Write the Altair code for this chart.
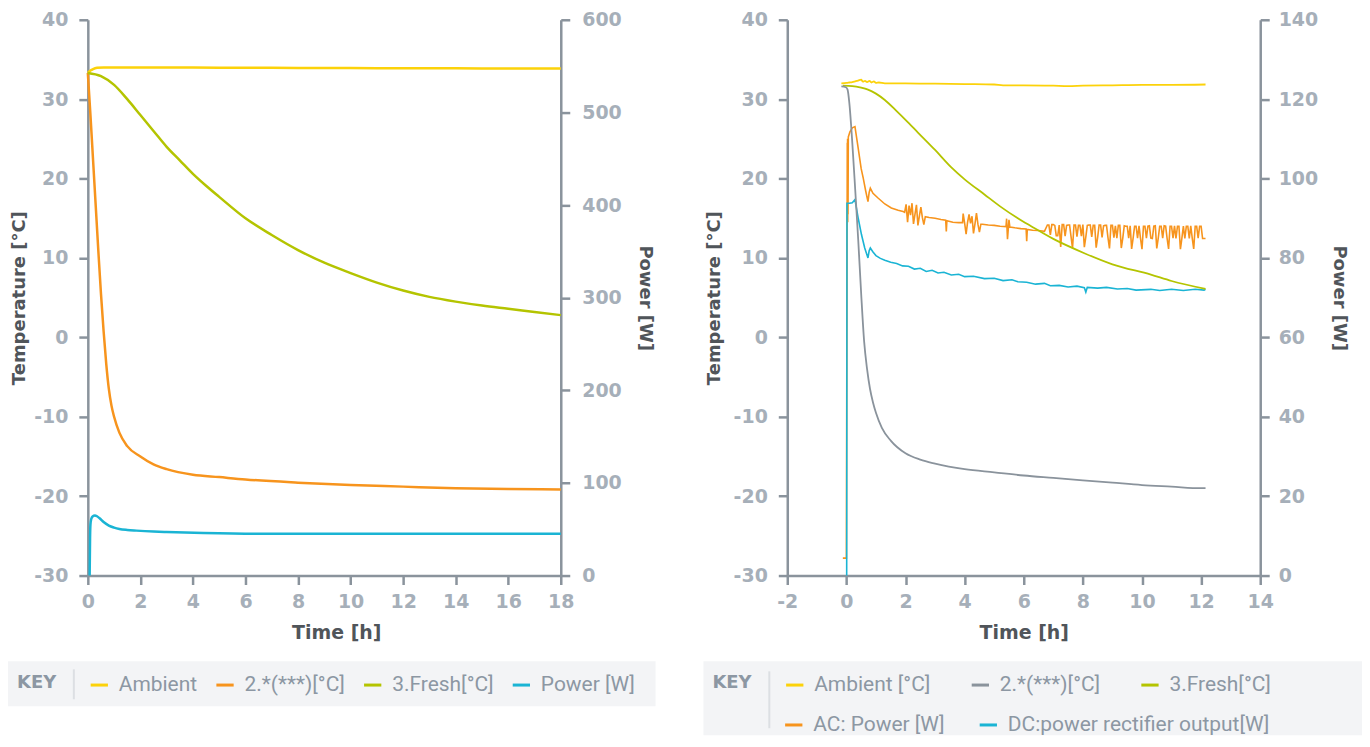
import altair as alt
import pandas as pd

# ---------------- left chart (18 h run) ----------------
L_SERIES = ["Ambient", "2.*(***)[°C]", "3.Fresh[°C]", "Power [W]"]
L_COLORS = ["#fcd20a", "#f7941d", "#b4c400", "#1ab4d4"]

L_AMB_T = [0, 0.1, 0.2, 0.35, 0.6, 1, 2, 4, 6, 8, 10, 12, 14, 16, 18]
L_AMB_V = [33.3, 33.6, 33.8, 33.95, 34.0, 34.0, 34.0, 33.98, 33.96, 33.94, 33.92, 33.9, 33.88, 33.86, 33.85]

L_CMP_T = [0, 0.1, 0.2, 0.3, 0.4, 0.5, 0.6, 0.7, 0.8, 0.9, 1.0, 1.2, 1.5, 2, 2.5, 3, 4, 5, 6, 8, 10, 12, 14, 16, 18]
L_CMP_V = [33.3, 28.0, 22.3, 16.6, 10.9, 5.5, 0.8, -3.3, -6.5, -8.6, -10.0, -12.0, -13.7, -15.0, -16.0,
           -16.6, -17.3, -17.6, -17.9, -18.3, -18.6, -18.8, -19.0, -19.1, -19.15]

L_FRS_T = [0, 0.5, 1, 1.5, 2, 2.5, 3, 3.5, 4, 4.5, 5, 6, 7, 8, 9, 10, 11, 12, 13, 14, 15, 16, 17, 18]
L_FRS_V = [33.3, 32.9, 31.8, 30.0, 28.0, 26.0, 24.0, 22.3, 20.6, 19.1, 17.7, 15.0, 12.9, 11.0, 9.4, 8.1,
           6.9, 5.9, 5.1, 4.5, 4.0, 3.6, 3.2, 2.8]

L_PWR_T = [0.07, 0.085, 0.1, 0.13, 0.18, 0.27, 0.35, 0.45, 0.6, 0.8, 1.0, 1.2, 1.5, 1.85, 2.5, 3.0, 4.4, 6.9, 9, 12, 15, 18]
L_PWR_V = [0, 40, 55, 61, 63.8, 64.8, 64.0, 61.8, 57.8, 54.0, 51.8, 50.3, 49.2, 48.5, 47.5, 47.0, 46.0, 45.0, 45.2, 45.1, 45.0, 45.0]

# ---------------- right chart (12 h run) ----------------
R_TEMP_SERIES = ["Ambient [°C]", "2.*(***)[°C]", "3.Fresh[°C]"]
R_TEMP_COLORS = ["#fcd20a", "#8a939c", "#b4c400"]
R_POW_SERIES = ["AC: Power [W]", "DC:power rectifier output[W]"]
R_POW_COLORS = ["#f7941d", "#1ab4d4"]

R_AMB_T = [-0.17, 0.0, 0.1, 0.2, 0.3, 0.4, 0.5, 0.56, 0.63, 0.7, 0.78, 0.85, 0.93, 1.0, 1.1, 1.3, 1.6, 2.0,
           3.0, 4.0, 5.0, 5.3, 6.0, 7.0, 7.5, 8.0, 9.0, 10.0, 11.0, 12.15]
R_AMB_V = [32.0, 32.05, 32.1, 32.15, 32.25, 32.35, 32.45, 32.2, 32.3, 32.15, 32.3, 32.1, 32.25, 32.05, 32.1,
           32.0, 32.0, 32.0, 31.95, 31.9, 31.85, 31.75, 31.75, 31.7, 31.65, 31.7, 31.75, 31.8, 31.8, 31.85]

R_CMP_T = [-0.17, -0.02, 0.04, 0.1, 0.2, 0.3, 0.4, 0.5, 0.6, 0.7, 0.8, 0.9, 1.0, 1.2, 1.5, 2.0, 2.5, 3.0,
           4.0, 5.0, 6.0, 7.0, 8.0, 9.0, 10.0, 11.0, 12.0, 12.15]
R_CMP_V = [31.6, 31.5, 31.2, 29.5, 24.5, 18.5, 12.3, 5.5, -0.5, -4.0, -6.5, -8.2, -9.5, -11.4, -13.0, -14.6,
           -15.4, -15.9, -16.6, -17.0, -17.4, -17.7, -18.0, -18.3, -18.6, -18.8, -19.0, -19.0]

R_FRS_T = [-0.12, 0.2, 0.5, 0.73, 1.0, 1.3, 1.7, 2.0, 2.42, 3.0, 3.55, 4.0, 4.67, 5.2, 5.8, 6.25, 7.0, 8.05,
           9.0, 10.3, 11.0, 12.15]
R_FRS_V = [31.7, 31.65, 31.45, 31.2, 30.7, 29.9, 28.5, 27.4, 25.8, 23.6, 21.4, 19.9, 18.0, 16.5, 15.0, 14.0,
           12.4, 10.6, 9.2, 7.9, 7.1, 6.1]

# AC power: start-up and drift (to 6.7 h)
R_AC_T = [-0.12, 0.0, 0.03, 0.035, 0.04, 0.045, 0.05, 0.055, 0.065, 0.12, 0.2, 0.29, 0.4, 0.5, 0.57, 0.65,
          0.73, 0.77, 0.81, 0.9, 1.07, 1.3, 1.52, 1.75, 1.92,
          1.97, 2.02, 2.07, 2.12, 2.17, 2.22, 2.27, 2.32, 2.37, 2.42, 2.47, 2.52, 2.57, 2.62, 2.67,
          2.8, 3.0, 3.2, 3.36, 3.38, 3.4, 3.6, 3.8, 3.93, 3.95, 4.0, 4.05, 4.1, 4.15, 4.2,
          4.25, 4.3, 4.35, 4.4, 4.45, 4.5, 4.55, 4.6, 4.8, 5.0, 5.2, 5.4, 5.42, 5.45, 5.5,
          5.53, 5.7, 5.9, 6.08, 6.1, 6.12, 6.3, 6.5, 6.7]
R_AC_V = [4.4, 4.4, 109.0, 90.0, 110.0, 89.0, 106.0, 91.0, 110.5, 111.8, 112.8, 113.1, 107.6, 102.5, 100.1, 97.0,
          94.2, 96.5, 97.6, 96.3, 95.1, 93.6, 92.6, 92.0, 91.7,
          91.5, 93.5, 89.0, 93.2, 90.8, 93.8, 88.6, 91.0, 93.4, 88.2, 90.6, 92.8, 90.2, 88.4, 90.4,
          90.2, 90.0, 89.7, 89.5, 86.7, 89.4, 89.0, 88.9, 88.9, 91.2, 88.8, 86.0, 89.0, 91.0, 88.7,
          90.5, 86.2, 88.6, 91.3, 88.5, 86.5, 88.5, 88.5, 88.3, 88.2, 88.0, 87.9, 89.9, 84.7, 89.6,
          87.8, 87.6, 87.4, 87.3, 84.2, 87.2, 87.0, 86.9, 86.7]

# AC power: switching band (6.8 h to the end)
R_AC_BAND_T = [6.8, 6.85, 6.9, 6.95, 7.0, 7.05, 7.1, 7.15, 7.2, 7.25, 7.3, 7.35, 7.4, 7.45, 7.5,
               7.55, 7.6, 7.65, 7.7, 7.75, 7.8, 7.85, 7.9, 7.95, 8.0, 8.05, 8.1, 8.15, 8.2, 8.25,
               8.3, 8.35, 8.4, 8.45, 8.5, 8.55, 8.6, 8.65, 8.7, 8.75, 8.8, 8.85, 8.9, 8.95, 9.0,
               9.05, 9.1, 9.15, 9.2, 9.25, 9.3, 9.35, 9.4, 9.45, 9.5, 9.55, 9.6, 9.65, 9.7, 9.75,
               9.8, 9.85, 9.9, 9.95, 10.0, 10.05, 10.1, 10.15, 10.2, 10.25, 10.3, 10.35, 10.4, 10.45, 10.5,
               10.55, 10.6, 10.65, 10.7, 10.75, 10.8, 10.85, 10.9, 10.95, 11.0, 11.05, 11.1, 11.15, 11.2, 11.25,
               11.3, 11.35, 11.4, 11.45, 11.5, 11.55, 11.6, 11.65, 11.7, 11.75, 11.8, 11.85, 11.9, 11.95, 12.0,
               12.05, 12.15]
R_AC_BAND_V = [88.3, 88.3, 85.8, 88.4, 88.4, 88.2, 85.6, 85.6, 88.3, 82.8, 88.4, 88.4, 85.5, 88.2, 88.3,
               88.3, 85.4, 82.5, 88.3, 88.3, 85.4, 88.2, 88.2, 85.5, 88.4, 82.7, 85.3, 88.2, 88.3, 88.3,
               85.3, 88.2, 88.2, 82.6, 85.2, 88.3, 88.3, 85.2, 88.1, 88.2, 88.2, 85.1, 82.4, 88.2, 88.2,
               85.1, 88.1, 85.0, 88.2, 88.2, 82.5, 85.0, 88.1, 88.0, 88.0, 85.0, 88.1, 82.3, 85.0, 88.0,
               88.0, 85.0, 88.1, 84.9, 82.2, 88.0, 88.0, 85.0, 88.0, 88.1, 85.0, 84.9, 88.0, 88.1, 82.4,
               85.0, 88.0, 88.0, 85.0, 88.1, 88.0, 84.9, 82.3, 88.0, 88.0, 85.0, 88.1, 84.9, 88.0, 88.0,
               82.2, 85.0, 88.0, 84.9, 88.0, 88.0, 84.9, 88.1, 85.0, 82.3, 88.0, 88.0, 85.0, 88.0, 88.0,
               84.9, 84.9]

R_DC_T = [0.01, 0.02, 0.1, 0.2, 0.29, 0.4, 0.51, 0.62, 0.73, 0.77, 0.81, 0.9, 1.0, 1.15, 1.3, 1.5, 1.7, 1.9,
          2.1, 2.3, 2.5, 2.7, 2.9, 3.1, 3.3, 3.55, 3.8, 4.0, 4.3, 4.67, 5.0, 5.3, 5.6, 5.8, 6.1, 6.4,
          6.7, 6.9, 7.2, 7.5, 7.8, 8.05, 8.1, 8.15, 8.5, 8.8, 9.17, 9.5, 9.8, 10.3, 10.6, 11.0, 11.4,
          11.8, 12.1, 12.15]
R_DC_V = [0.0, 93.8, 93.8, 93.9, 94.7, 90.0, 85.9, 82.5, 80.0, 81.8, 82.5, 81.5, 80.6, 79.9, 79.4, 78.9,
          78.6, 78.0, 77.9, 77.2, 77.4, 76.6, 76.9, 76.2, 76.4, 75.7, 75.9, 75.3, 75.4, 74.8, 74.9, 74.3,
          74.5, 74.0, 73.9, 73.4, 73.6, 73.0, 73.1, 72.7, 72.9, 72.5, 71.4, 72.6, 72.4, 72.6, 72.2, 72.3,
          71.9, 72.1, 71.8, 72.1, 71.8, 72.1, 71.9, 72.1]

TEMP_TICKS = [-30, -20, -10, 0, 10, 20, 30, 40]

AXC = "#8a939c"
TICKC = "#a6afb9"
TITLEC = "#50555a"
KEYC = "#8c97a3"
BOXC = "#f3f4f6"
SEPC = "#dcdfe3"
MINUS = "datum.value < 0 ? '-' + abs(datum.value) : '' + datum.value"


def frame(parts):
    rows = []
    for name, times, values in parts:
        rows.append(pd.DataFrame({"t": times, "v": values, "series": name, "i": list(range(len(times)))}))
    return pd.concat(rows, ignore_index=True)


def legend(lx, ly, colpad, with_title=True):
    kw = dict(orient="none", legendX=lx, legendY=ly, direction="horizontal",
              columnPadding=colpad, symbolType="stroke", symbolSize=300,
              symbolStrokeWidth=3, labelOffset=9, padding=0, labelLimit=500)
    if with_title:
        kw.update(title="KEY", titleOrient="left", titlePadding=32, titleAnchor="start")
    else:
        kw.update(title=None)
    return alt.Legend(**kw)


def panel(df_temp, df_pow, temp_color, pow_color, xdom, xvals, pdom, pvals, box, sep,
          tpad_t, tpad_p, lpad_p, w_t, w_p, interp_t, interp_p, title_x=None, split_legend=False):
    xaxis_kw = dict(values=xvals, title="Time [h]", labelPadding=8, titlePadding=12, titleFontSize=19,
                    labelExpr=MINUS)
    if title_x is not None:
        xaxis_kw["titleX"] = title_x
    x = alt.X("t:Q", scale=alt.Scale(domain=xdom, nice=False, zero=False), axis=alt.Axis(**xaxis_kw))
    pow_layer = alt.Chart(df_pow).mark_line(strokeWidth=w_p, interpolate=interp_p).encode(
        x=x,
        y=alt.Y("v:Q", scale=alt.Scale(domain=pdom, nice=False, zero=False),
                axis=alt.Axis(orient="right", values=pvals, title="Power [W]", titleAngle=90,
                              labelPadding=lpad_p, titlePadding=tpad_p)),
        color=pow_color, order="i:Q")
    temp_layer = alt.Chart(df_temp).mark_line(strokeWidth=w_t, interpolate=interp_t).encode(
        x=x,
        y=alt.Y("v:Q", scale=alt.Scale(domain=[-30, 40], nice=False, zero=False),
                axis=alt.Axis(orient="left", values=TEMP_TICKS, title="Temperature [°C]",
                              labelPadding=11, titlePadding=tpad_t, labelExpr=MINUS)),
        color=temp_color, order="i:Q")
    one = pd.DataFrame({"k": [0]})
    bg = alt.Chart(one).mark_rect(color=BOXC).encode(
        x=alt.value(box[0]), x2=alt.value(box[1]), y=alt.value(box[2]), y2=alt.value(box[3]))
    sp = alt.Chart(one).mark_rule(color=SEPC, strokeWidth=2).encode(
        x=alt.value(sep[0]), y=alt.value(sep[1]), y2=alt.value(sep[2]))
    layered = alt.layer(bg, sp, pow_layer, temp_layer)
    if split_legend:
        layered = layered.resolve_scale(y="independent", color="independent")
    else:
        layered = layered.resolve_scale(y="independent")
    return layered.properties(width=474, height=557)


left_temp = frame([(L_SERIES[0], L_AMB_T, L_AMB_V), (L_SERIES[1], L_CMP_T, L_CMP_V),
                   (L_SERIES[2], L_FRS_T, L_FRS_V)])
left_pow = frame([(L_SERIES[3], L_PWR_T, L_PWR_V)])
right_temp = frame([(R_TEMP_SERIES[0], R_AMB_T, R_AMB_V), (R_TEMP_SERIES[2], R_FRS_T, R_FRS_V),
                    (R_TEMP_SERIES[1], R_CMP_T, R_CMP_V)])
right_pow = frame([(R_POW_SERIES[0], R_AC_T + R_AC_BAND_T, R_AC_V + R_AC_BAND_V),
                   (R_POW_SERIES[1], R_DC_T, R_DC_V)])

left_color = alt.Color("series:N", scale=alt.Scale(domain=L_SERIES, range=L_COLORS),
                       legend=legend(-71, 656, 12))
left = panel(left_temp, left_pow, left_color, left_color, [0, 18], list(range(0, 19, 2)),
             [0, 600], list(range(0, 601, 100)),
             (-80, 569, 643, 688), (-14, 651, 681), 5, 14, 12, 2.5, 2.5, "monotone", "monotone",
             title_x=249)

r_temp_color = alt.Color("series:N", scale=alt.Scale(domain=R_TEMP_SERIES, range=R_TEMP_COLORS),
                         legend=legend(-75, 656, 34))
r_pow_color = alt.Color("series:N", scale=alt.Scale(domain=R_POW_SERIES, range=R_POW_COLORS),
                        legend=legend(-4, 696, 28, with_title=False))
right = panel(right_temp, right_pow, r_temp_color, r_pow_color, [-2, 14], list(range(-2, 15, 2)),
              [0, 140], list(range(0, 141, 20)),
              (-84, 576, 643, 717), (-18, 653, 710), 10, 12, 9, 1.8, 1.6, "monotone", "linear",
              split_legend=True)

chart = alt.hconcat(left, right, spacing=48).resolve_scale(
    color="independent", x="independent", y="independent").properties(
    padding={"left": 0, "top": 2, "right": 0, "bottom": 0}).configure_view(stroke=None).configure_axis(
    domainColor=AXC, domainWidth=2.5, tickColor=AXC, tickWidth=2.5, tickSize=9, grid=False,
    labelFont="DejaVu Sans", labelFontWeight="bold", labelFontSize=19, labelColor=TICKC,
    labelFlush=False, labelOverlap=False,
    titleFont="DejaVu Sans", titleFontWeight="bold", titleFontSize=18, titleColor=TITLEC
).configure_legend(
    titleFont="DejaVu Sans", titleFontWeight="bold", titleFontSize=18, titleColor=KEYC,
    labelFont="Roboto", labelFontSize=21, labelColor=KEYC
)

chart.save("out.html", embed_options={"renderer": "svg", "actions": False})
